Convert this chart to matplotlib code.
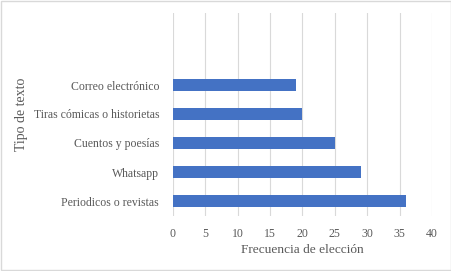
import matplotlib.pyplot as plt
from matplotlib.patches import Rectangle

# categories listed bottom to top; two empty slots on top as in the original
categorias = ['Periodicos o revistas', 'Whatsapp', 'Cuentos y poesías',
              'Tiras cómicas o historietas', 'Correo electrónico', '', '']
frecuencias = [36, 29, 25, 20, 19, 0, 0]
xticks = [0, 5, 10, 15, 20, 25, 30, 35, 40]

plt.rcParams['font.family'] = ['Liberation Serif', 'DejaVu Serif']
gris = '#595959'

fig = plt.figure(figsize=(4.52, 2.71), dpi=100)
ax = fig.add_axes([173 / 452, 1 - 215.5 / 271, (432 - 173) / 452, 203 / 271])

pos = range(len(categorias))
ax.barh(pos, frecuencias, height=0.38, color='#4472c4', zorder=3)

ax.set_xlim(0, 40)
ax.set_ylim(-0.5, len(categorias) - 0.5)
ax.set_xticks(xticks)
ax.set_xticklabels([str(v) for v in xticks], fontsize=8.5, color=gris)
ax.set_yticks(list(pos))
ax.set_yticklabels(categorias, fontsize=8.5, color=gris)
ax.tick_params(axis='y', length=0, pad=10)
ax.tick_params(axis='x', length=0, pad=9)

ax.grid(axis='x', color='#d9d9d9', linewidth=0.8, zorder=0)
for s in ax.spines.values():
    s.set_visible(False)

ax.set_xlabel('Frecuencia de elección', fontsize=9.6, color=gris, labelpad=3)
ax.set_ylabel('Tipo de texto', fontsize=10, color=gris)
ax.yaxis.set_label_coords(-(173 - 28) / 259, 0.5)

# light border around the whole chart
fig.patches.append(Rectangle((0.002, 0.004), 0.996, 0.992, transform=fig.transFigure,
                             fill=False, edgecolor='#d9d9d9', linewidth=1))

fig.savefig('out.png', dpi=100)
